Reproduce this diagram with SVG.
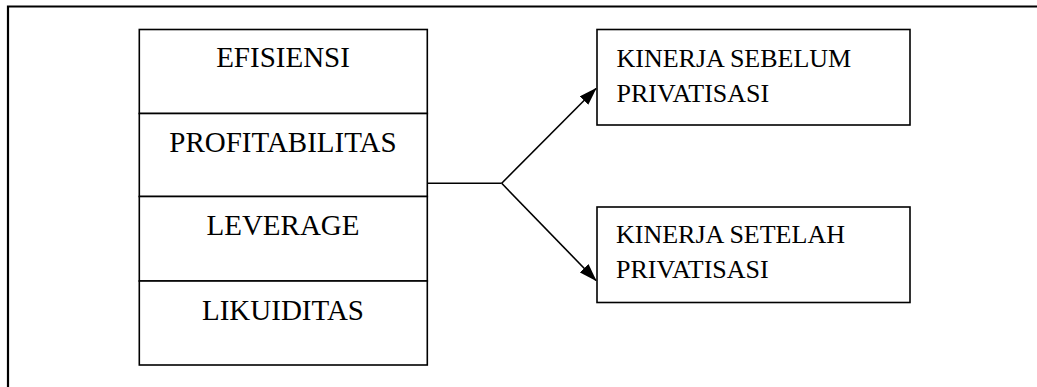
<svg xmlns="http://www.w3.org/2000/svg" width="1037" height="387" viewBox="0 0 1037 387">
<style>
.box{fill:#fff;stroke:#000;stroke-width:1.6}
.t{font-family:"Liberation Serif","Times New Roman",serif;fill:#000}
.big{font-size:29px}
.sm{font-size:26px}
.ln{stroke:#000;stroke-width:1.6;fill:none}
</style>
<defs>
<marker id="ah" markerWidth="18" markerHeight="12" refX="17" refY="6" orient="auto" markerUnits="userSpaceOnUse">
<path d="M0,0 L18,6 L0,12 Z" fill="#000"/>
</marker>
</defs>
<rect width="1037" height="387" fill="#fff"/>
<g id="frame">
<path d="M8,387 V6.5 H1037" stroke="#000" stroke-width="2.2" fill="none"/>
</g>
<g id="efisiensi">
<rect class="box" x="139.3" y="29.5" width="288" height="84"/>
<text class="t big" x="283" y="67" text-anchor="middle">EFISIENSI</text>
</g>
<g id="profitabilitas">
<rect class="box" x="139.3" y="113.5" width="288" height="83"/>
<text class="t big" x="283" y="151.5" text-anchor="middle">PROFITABILITAS</text>
</g>
<g id="leverage">
<rect class="box" x="139.3" y="196.5" width="288" height="84.5"/>
<text class="t big" x="283" y="235" text-anchor="middle">LEVERAGE</text>
</g>
<g id="likuiditas">
<rect class="box" x="139.3" y="281" width="288" height="84"/>
<text class="t big" x="283" y="320" text-anchor="middle">LIKUIDITAS</text>
</g>
<g id="sebelum">
<rect class="box" x="597" y="29.5" width="313" height="95.5"/>
<text class="t sm" x="616.5" y="66.5">KINERJA SEBELUM</text>
<text class="t sm" x="616.5" y="101.5">PRIVATISASI</text>
</g>
<g id="setelah">
<rect class="box" x="597" y="207" width="313" height="95.5"/>
<text class="t sm" x="616" y="243.3">KINERJA SETELAH</text>
<text class="t sm" x="616" y="278.3">PRIVATISASI</text>
</g>
<g id="connectors">
<path class="ln" d="M427.3,183.3 H501.7"/>
<path class="ln" d="M501.7,183.3 L596,88.5" marker-end="url(#ah)"/>
<path class="ln" d="M501.7,183.3 L596,280.5" marker-end="url(#ah)"/>
</g>
</svg>
